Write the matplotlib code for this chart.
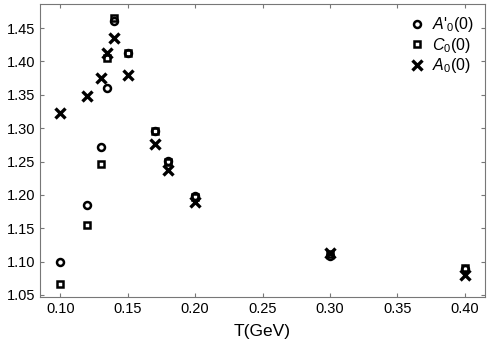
import matplotlib
matplotlib.use("Agg")
import matplotlib.pyplot as plt

plt.rcParams['font.family'] = ['Liberation Sans', 'DejaVu Sans']
plt.rcParams['mathtext.fontset'] = 'custom'
plt.rcParams['mathtext.rm'] = 'Liberation Sans'
plt.rcParams['mathtext.it'] = 'Liberation Sans:italic'

T_circ = [0.10, 0.12, 0.13, 0.135, 0.14, 0.15, 0.17, 0.18, 0.20, 0.30, 0.40]
A_prime = [1.100, 1.185, 1.272, 1.360, 1.460, 1.412, 1.295, 1.251, 1.198, 1.108, 1.089]

T_sq = [0.10, 0.12, 0.13, 0.135, 0.14, 0.15, 0.17, 0.18, 0.20, 0.30, 0.40]
C0 = [1.066, 1.155, 1.246, 1.405, 1.465, 1.412, 1.295, 1.250, 1.197, 1.112, 1.090]

T_x = [0.10, 0.12, 0.13, 0.135, 0.14, 0.15, 0.17, 0.18, 0.20, 0.30, 0.40]
A0 = [1.322, 1.348, 1.375, 1.413, 1.435, 1.380, 1.276, 1.238, 1.190, 1.113, 1.080]

xticks = [0.10, 0.15, 0.20, 0.25, 0.30, 0.35, 0.40]
yticks = [1.05, 1.10, 1.15, 1.20, 1.25, 1.30, 1.35, 1.40, 1.45]

fig = plt.figure(figsize=(4.91, 3.47), dpi=100)
ax = fig.add_axes([40/491, 50/347, 445/491, 293/347])

ax.plot(T_circ, A_prime, linestyle='none', marker='o', ms=5, mfc='none', mec='black', mew=1.8,
        label=r"$A$'$_{\mathit{0}}$(0)")
ax.plot(T_sq, C0, linestyle='none', marker='s', ms=5, mfc='none', mec='black', mew=1.8,
        label=r"$C_{\mathit{0}}$(0)")
ax.plot(T_x, A0, linestyle='none', marker='x', ms=6.5, color='black', mew=2.4,
        label=r"$A_{\mathit{0}}$(0)")

ax.set_xlim(0.085, 0.415)
ax.set_ylim(1.047, 1.486)
ax.set_xticks(xticks)
ax.set_xticklabels([f"{v:.2f}" for v in xticks])
ax.set_yticks(yticks)
ax.set_yticklabels([f"{v:.2f}" for v in yticks])
ax.tick_params(direction='in', top=True, right=True, labelsize=10.5, length=3, color='#777777')
for s in ax.spines.values():
    s.set_color('#777777')
ax.set_xlabel('T(GeV)', fontsize=12.5, labelpad=6)

leg = ax.legend(loc='upper right', frameon=False, fontsize=11.5, handletextpad=0.2,
                borderaxespad=0.3, labelspacing=0.1, handlelength=1.5)

fig.savefig('out.png', dpi=100)
